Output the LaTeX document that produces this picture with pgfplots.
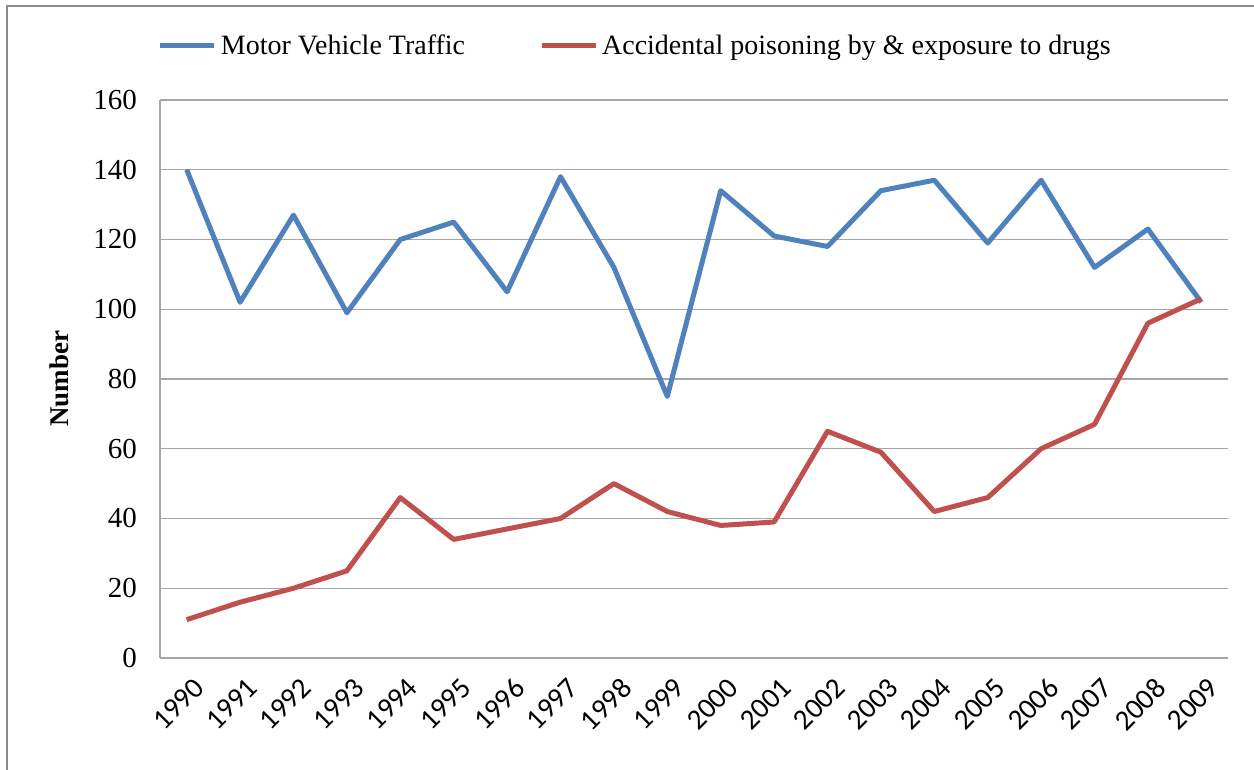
\documentclass[border=0pt]{standalone}
\usepackage{fontspec}
\setmainfont{Liberation Serif}
\newfontfamily\xfont{Carlito}
\usepackage{pgfplots}
\pgfplotsset{compat=1.18}
\definecolor{mvblue}{HTML}{4F81BD}
\definecolor{drred}{HTML}{C0504D}
\definecolor{gridgray}{HTML}{A6A6A6}
\definecolor{framegray}{HTML}{8C8C8C}

\pgfplotstableread{
year traffic drugs
1990 140 11
1991 102 16
1992 127 20
1993  99 25
1994 120 46
1995 125 34
1996 105 37
1997 138 40
1998 112 50
1999  75 42
2000 134 38
2001 121 39
2002 118 65
2003 134 59
2004 137 42
2005 119 46
2006 137 60
2007 112 67
2008 123 96
2009 102 103
}\deaths

\begin{document}
\begin{tikzpicture}
\path[use as bounding box] (0,0) rectangle (627bp,385bp);
\draw[framegray, line width=1.2bp] (3.5bp,0) -- (3.5bp,382bp) -- (627bp,382bp);
\begin{axis}[
  at={(80bp,56bp)}, anchor=south west,
  scale only axis, width=534bp, height=279bp,
  xmin=1989.5, xmax=2009.5,
  ymin=0, ymax=160,
  xtick=data, ytick distance=20,
  axis lines*=left,
  axis line style={gridgray, line width=0.7bp, -},
  ymajorgrids,
  major grid style={gridgray, line width=0.6bp},
  major tick length=0pt,
  /pgf/number format/assume math mode=true,
  xticklabel style={font=\xfont\fontsize{14.5bp}{16bp}\selectfont, rotate=45, anchor=north east, xshift=-1bp, yshift=-5bp,
    /pgf/number format/set thousands separator={}},
  yticklabel style={font=\fontsize{14.5bp}{16bp}\selectfont, xshift=-8bp},
  ylabel={\bfseries Number},
  ylabel style={font=\fontsize{13.5bp}{15bp}\selectfont, at={(axis description cs:-0.094,0.5)}, anchor=center},
  legend style={at={(0.446,1.097)}, anchor=center, draw=none, fill=none,
    font=\fontsize{14bp}{16bp}\selectfont, inner sep=0pt,
    /tikz/every even column/.append style={column sep=35bp}},
  legend columns=2,
  legend cell align=left,
  legend image code/.code={\draw[#1] (0bp,0bp) -- (27bp,0bp);},
]
\addplot[mvblue, line width=2.5bp, line join=round] table[x=year, y=traffic] {\deaths};
\addlegendentry{Motor Vehicle Traffic}
\addplot[drred, line width=2.5bp, line join=round] table[x=year, y=drugs] {\deaths};
\addlegendentry{Accidental poisoning by \& exposure to drugs}
\end{axis}
\end{tikzpicture}
\end{document}
